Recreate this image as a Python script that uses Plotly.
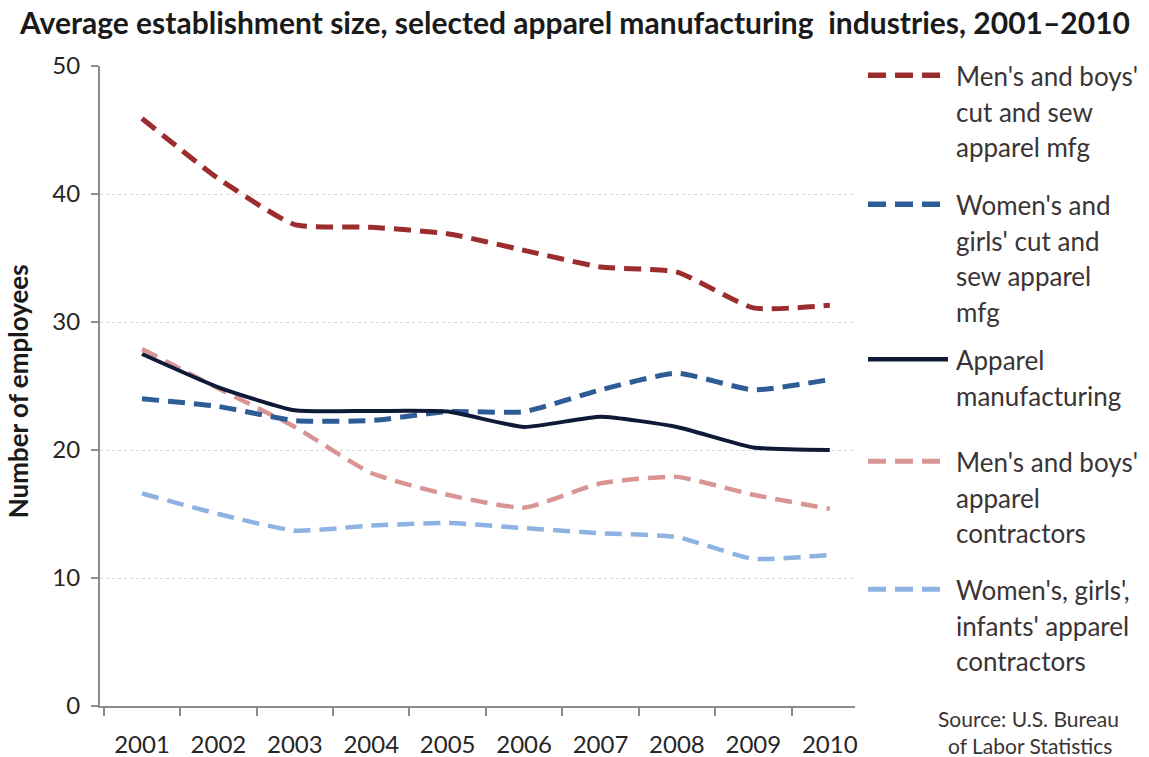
import plotly.graph_objects as go

# Average establishment size (employees per establishment), 2001-2010
years = [2001, 2002, 2003, 2004, 2005, 2006, 2007, 2008, 2009, 2010]

mens_cut_sew = [45.9, 41.2, 37.6, 37.4, 36.9, 35.6, 34.3, 33.9, 31.1, 31.3]
womens_cut_sew = [24.0, 23.4, 22.3, 22.3, 23.0, 23.0, 24.7, 26.0, 24.7, 25.5]
apparel_mfg = [27.5, 24.9, 23.1, 23.05, 23.0, 21.8, 22.6, 21.8, 20.2, 20.0]
mens_contractors = [27.9, 24.8, 21.8, 18.2, 16.5, 15.5, 17.4, 17.9, 16.5, 15.4]
womens_contractors = [16.6, 15.0, 13.7, 14.1, 14.3, 13.9, 13.5, 13.2, 11.5, 11.8]

year_labels = [str(y) for y in years]
y_ticks = [0, 10, 20, 30, 40, 50]

series = [
    (["Men's and boys'", "cut and sew", "apparel mfg"], mens_cut_sew, "#9b2d2f", "dash", 5),
    (["Women's and", "girls' cut and", "sew apparel", "mfg"], womens_cut_sew, "#2e5c96", "dash", 5),
    (["Apparel", "manufacturing"], apparel_mfg, "#0f1a36", "solid", 4),
    (["Men's and boys'", "apparel", "contractors"], mens_contractors, "#d99594", "dash", 4.5),
    (["Women's, girls',", "infants' apparel", "contractors"], womens_contractors, "#8db3e2", "dash", 4.5),
]

# Page geometry (pixels) for the plot area
W, H = 1149, 757
L, R = 100, 855
T, B = 65.7, 705.7

FONT = "Lato"
TEXT_COLOR = "#3b3434"


def px_x(px):
    return (px - L) / (R - L)


def px_y(py):
    return (B - py) / (B - T)


fig = go.Figure()

# Draw order: light series first so the darker lines sit on top
for idx in [4, 3, 1, 2, 0]:
    names, vals, color, style, width = series[idx]
    fig.add_trace(go.Scatter(
        x=years, y=vals, mode="lines",
        name=" ".join(names),
        line=dict(color=color, width=width,
                  dash="17px,9px" if style == "dash" else "solid",
                  shape="spline", smoothing=0.5),
        showlegend=False,
    ))

# Hand-built legend on the right
legend_rows = [75, 204, 359, 461, 589]
line_gap = 35.5
shapes = []
annotations = []
for (names, vals, color, style, width), row_y in zip(series, legend_rows):
    shapes.append(dict(
        type="line", xref="paper", yref="paper",
        x0=px_x(868), x1=px_x(948), y0=px_y(row_y), y1=px_y(row_y),
        line=dict(color=color, width=width + 0.5,
                  dash="18px,9px" if style == "dash" else "solid"),
    ))
    for k, txt in enumerate(names):
        annotations.append(dict(
            xref="paper", yref="paper", x=px_x(954), y=px_y(row_y + 1 + k * line_gap),
            xanchor="left", yanchor="middle", text=txt, showarrow=False,
            font=dict(family=FONT, size=26, color=TEXT_COLOR),
        ))

annotations.append(dict(
    xref="paper", yref="paper", x=px_x(1028), y=px_y(718),
    xanchor="center", yanchor="middle", text="Source: U.S. Bureau",
    showarrow=False, font=dict(family=FONT, size=21, color=TEXT_COLOR),
))
annotations.append(dict(
    xref="paper", yref="paper", x=px_x(1030), y=px_y(745),
    xanchor="center", yanchor="middle", text="of Labor Statistics",
    showarrow=False, font=dict(family=FONT, size=21, color=TEXT_COLOR),
))

# Title and y-axis title
annotations.append(dict(
    xref="paper", yref="paper", x=px_x(574), y=px_y(22),
    xanchor="center", yanchor="middle",
    text="<b>Average establishment size, selected apparel manufacturing  industries, 2001\u20132010</b>",
    showarrow=False, font=dict(family=FONT, size=30, color="#1a1a1a"),
))
annotations.append(dict(
    xref="paper", yref="paper", x=px_x(18), y=px_y(391),
    xanchor="center", yanchor="middle", textangle=-90,
    text="<b>Number of employees</b>",
    showarrow=False, font=dict(family=FONT, size=26, color="#1a1a1a"),
))

fig.update_layout(
    width=W, height=H,
    margin=dict(l=L, r=W - R, t=T, b=H - B, pad=0, autoexpand=False),
    paper_bgcolor="white", plot_bgcolor="white",
    shapes=shapes, annotations=annotations,
    xaxis=dict(
        range=[2000.45, 2010.33], automargin=False,
        tickvals=years, ticktext=year_labels, ticks="",
        tickfont=dict(family=FONT, size=24, color="#262626"),
        ticklabelstandoff=16,
        showgrid=False, zeroline=False,
        showline=True, linecolor="#8c8c8c", linewidth=2,
        minor=dict(tick0=2000.5, dtick=1, ticks="outside", ticklen=8,
                   tickcolor="#8c8c8c", tickwidth=2, showgrid=False),
        fixedrange=True,
    ),
    yaxis=dict(
        range=[0, 50], tickvals=y_ticks, automargin=False,
        tickfont=dict(family=FONT, size=24, color="#262626"),
        ticks="outside", ticklen=7, tickcolor="#8c8c8c", tickwidth=2,
        showgrid=True, gridcolor="#d4d4d4", gridwidth=1, griddash="dot",
        zeroline=False, showline=True, linecolor="#8c8c8c", linewidth=2,
        ticklabelstandoff=6,
    ),
)

fig.write_html("out.html")
